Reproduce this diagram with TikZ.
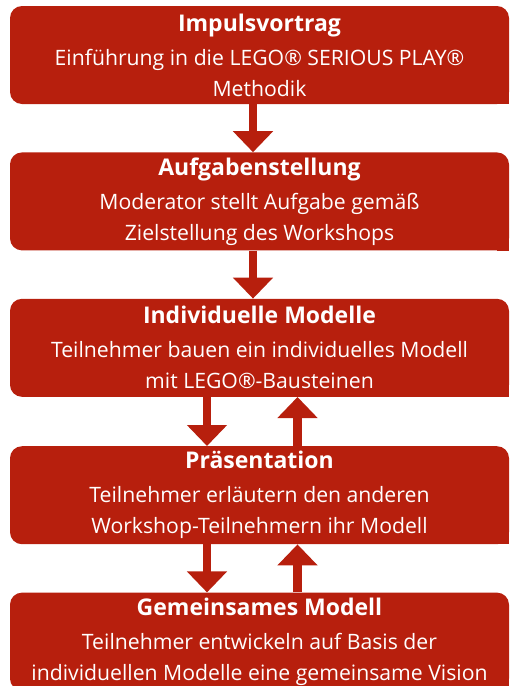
\documentclass[tikz,border=0pt]{standalone}
\usepackage{fontspec}
\setmainfont{Open Sans}
\usetikzlibrary{calc}
\usetikzlibrary{positioning}
\usetikzlibrary{arrows.meta}

\definecolor{legored}{RGB}{183,31,13}

\begin{document}
\begin{tikzpicture}[x=1pt, y=-1pt]
    \tikzstyle{phase}=[fill=legored, rounded corners=12pt, text=white,
      minimum width=499pt, minimum height=98pt, inner sep=0pt, align=center,
      font=\fontsize{21.2}{31}\selectfont]
    \tikzstyle{flow}=[draw=legored, line width=8.5pt,
      -{Triangle[width=39pt, length=21pt]}]
    \newcommand{\phasetitle}[1]{{\bfseries\fontsize{23}{31}\selectfont #1}\\[3pt]}

    \useasboundingbox (0,0) rectangle (514,686);

    % Phasen
    \node[phase] (b1) at (259.5,55)
      {\phasetitle{Impulsvortrag}Einführung in die LEGO® SERIOUS PLAY®\\Methodik};
    \node[phase, below=48pt of b1] (b2)
      {\phasetitle{Aufgabenstellung}Moderator stellt Aufgabe gemäß\\Zielstellung des Workshops};
    \node[phase, below=48pt of b2] (b3)
      {\phasetitle{Individuelle Modelle}Teilnehmer bauen ein individuelles Modell\\mit LEGO®-Bausteinen};
    \node[phase, below=49pt of b3] (b4)
      {\phasetitle{Präsentation}Teilnehmer erläutern den anderen\\Workshop-Teilnehmern ihr Modell};
    \node[phase, below=48pt of b4] (b5)
      {\phasetitle{Gemeinsames Modell}Teilnehmer entwickeln auf Basis der\\individuellen Modelle eine gemeinsame Vision};

    % eckige Ecke unten rechts
    \foreach \b in {b1,b2,b3,b4,b5}
      \fill[legored] ($(\b.south east)+(-12,0)$) rectangle ($(\b.south east)+(0,-12)$);

    % Pfeile
    \draw[flow] ($(b1.south)+(-6.5,0)$) -- ($(b2.north)+(-6.5,0)$);
    \draw[flow] ($(b2.south)+(-6.5,0)$) -- ($(b3.north)+(-6.5,0)$);
    \draw[flow] ($(b3.south)+(-52.5,0)$) -- ($(b4.north)+(-52.5,0)$);
    \draw[flow] ($(b4.north)+(38,0)$) -- ($(b3.south)+(38,0)$);
    \draw[flow] ($(b4.south)+(-52.5,0)$) -- ($(b5.north)+(-52.5,0)$);
    \draw[flow] ($(b5.north)+(38,0)$) -- ($(b4.south)+(38,0)$);
  \end{tikzpicture}
\end{document}
